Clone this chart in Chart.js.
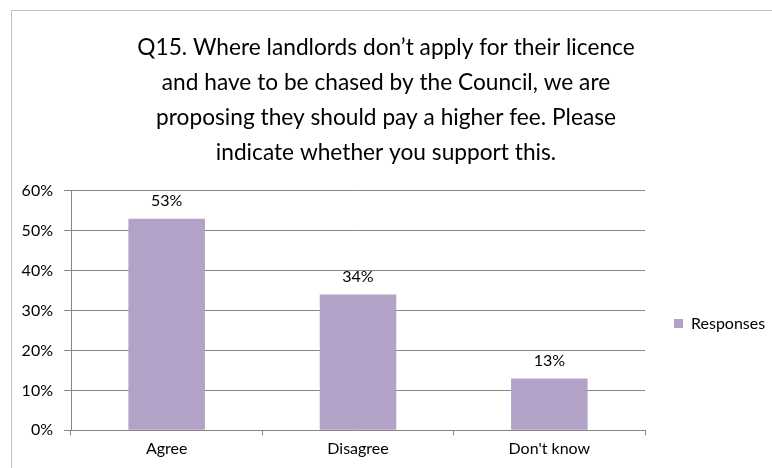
<!DOCTYPE html>
<html>
<head>
<meta charset="utf-8">
<script src="https://cdn.jsdelivr.net/npm/chart.js@4/dist/chart.umd.min.js"></script>
<style>
  html, body { margin: 0; padding: 0; background: #fff; }
  #frame {
    position: absolute; left: 11px; top: 10px;
    width: 800px; height: 500px;
    border-left: 1px solid #BFBFBF; border-top: 1px solid #BFBFBF;
  }
  #wrap { position: absolute; left: 0; top: 0; width: 772px; height: 468px; }
</style>
</head>
<body>
<div id="frame"></div>
<div id="wrap"><canvas id="chart" width="772" height="468"></canvas></div>
<script>
// Survey answers for Q15
const categories = ['Agree', 'Disagree', "Don't know"];
const responses = [0.53, 0.34, 0.13];
const yTicks = [0, 0.1, 0.2, 0.3, 0.4, 0.5, 0.6];
const titleLines = [
    'Q15. Where landlords don\u2019t apply for their licence',
    'and have to be chased by the Council, we are',
    'proposing they should pay a higher fee. Please',
    'indicate whether you support this.'
];

const FONT = 'Lato, "Open Sans", sans-serif';
const GRID = '#868686';
const AXIS_X = 71;         // where the value axis sits
const LEGEND_SHIFT = 13;   // push legend down a bit from centre

// Percent labels above each bar
const barLabels = {
    id: 'barLabels',
    afterDatasetsDraw(chart) {
        const ctx = chart.ctx;
        const meta = chart.getDatasetMeta(0);
        ctx.save();
        ctx.font = '16px ' + FONT;
        ctx.fillStyle = '#000';
        ctx.textAlign = 'center';
        ctx.textBaseline = 'middle';
        meta.data.forEach((bar, i) => {
            const v = chart.data.datasets[0].data[i];
            ctx.fillText(Math.round(v * 100) + '%', bar.x, bar.y - 18);
        });
        ctx.restore();
    }
};

// Nudge the legend box after layout
const legendNudge = {
    id: 'legendNudge',
    afterLayout(chart) {
        if (chart.legend) {
            chart.legend.top += LEGEND_SHIFT;
            chart.legend.bottom += LEGEND_SHIFT;
        }
    }
};

const ctx = document.getElementById('chart').getContext('2d');
new Chart(ctx, {
    type: 'bar',
    data: {
        labels: categories,
        datasets: [{
            label: 'Responses',
            data: responses,
            backgroundColor: '#B2A2C7',
            borderWidth: 0,
            barPercentage: 0.4,
            categoryPercentage: 1
        }]
    },
    options: {
        responsive: false,
        animation: false,
        layout: { padding: { left: 0, right: 0, top: 0, bottom: 5.5 } },
        plugins: {
            title: {
                display: true,
                text: titleLines,
                color: '#000',
                font: { family: FONT, size: 22.7, weight: 'normal', lineHeight: 1.54 },
                padding: { top: 30, bottom: 21 }
            },
            legend: {
                position: 'right',
                fullSize: false,
                maxWidth: 127,
                labels: {
                    boxWidth: 9,
                    boxHeight: 9,
                    color: '#000',
                    font: { family: FONT, size: 16 },
                    padding: 29
                }
            },
            tooltip: { enabled: false }
        },
        scales: {
            x: {
                grid: { drawOnChartArea: false, drawTicks: true, tickLength: 5, color: GRID },
                border: { color: GRID },
                ticks: { color: '#000', font: { family: FONT, size: 16 }, padding: 4 }
            },
            y: {
                min: 0,
                max: 0.6,
                afterBuildTicks(scale) {
                    scale.ticks = yTicks.map(v => ({ value: v }));
                },
                afterFit(scale) {
                    scale.width = AXIS_X;
                },
                grid: { color: GRID, tickLength: 7 },
                border: { color: GRID },
                ticks: {
                    color: '#000',
                    font: { family: FONT, size: 16 },
                    padding: 11,
                    callback: v => Math.round(v * 100) + '%'
                }
            }
        }
    },
    plugins: [barLabels, legendNudge]
});
</script>
</body>
</html>
